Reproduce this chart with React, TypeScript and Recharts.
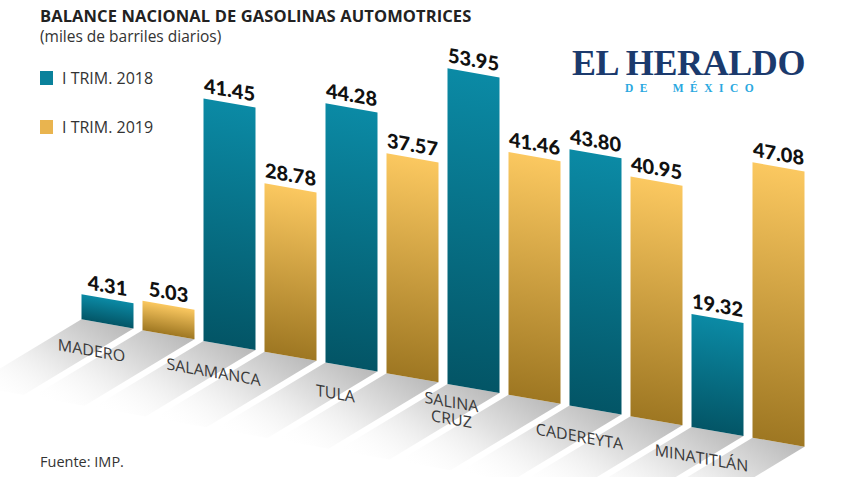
import React from 'react';
import { BarChart, Bar, XAxis, YAxis, LabelList } from 'recharts';

// refinerías y producción (miles de barriles diarios)
const refinerias = ['MADERO', 'SALAMANCA', 'TULA', 'SALINA CRUZ', 'CADEREYTA', 'MINATITLÁN'];
const trim2018 = [4.31, 41.45, 44.28, 53.95, 43.8, 19.32];
const trim2019 = [5.03, 28.78, 37.57, 41.46, 40.95, 47.08];

const data = refinerias.map((name, i) => ({ name, t2018: trim2018[i], t2019: trim2019[i] }));

const TEAL = '#0a819b';
const GOLD = '#e9b44f';

// barra con su "sombra" en el piso (se dibuja antes de inclinar todo con CSS)
const FloorBar = (props: any) => {
  const { x, y, width, height, fill } = props;
  if (height == null || width == null) return null;
  const base = y + height;
  const L = 110;
  const k = 0.78;
  const floor = `${x},${base} ${x + width},${base} ${x + width - L},${base + L * k} ${x - L},${base + L * k}`;
  return (
    <g>
      <polygon points={floor} fill="url(#piso)" />
      <rect x={x} y={y} width={width} height={height} fill={fill} />
    </g>
  );
};

const fmt = (v: number) => v.toFixed(2);

const CatTick = (props: any) => {
  const { x, y, payload } = props;
  const lines = String(payload.value).split(' ');
  const two = payload.value === 'SALINA CRUZ';
  return (
    <text
      x={x - 46}
      y={y + (two ? 15 : 27)}
      textAnchor="middle"
      fill="#3a3a3a"
      fontSize={16}
      fontFamily="'Open Sans', sans-serif"
    >
      {two
        ? lines.map((l, i) => (
            <tspan key={i} x={x - 52} dy={i === 0 ? 0 : 17}>{l}</tspan>
          ))
        : payload.value}
    </text>
  );
};

export default function App() {
  return (
    <div
      style={{
        position: 'relative',
        width: 848,
        height: 477,
        overflow: 'hidden',
        background: '#fff',
        fontFamily: "'Open Sans', sans-serif",
        color: '#222',
      }}
    >
      <style>{'body{margin:0}'}</style>

      <div style={{ position: 'absolute', left: 0, top: -80, transform: 'skewY(10deg)', transformOrigin: '0 0' }}>
        <BarChart
          width={848}
          height={480}
          data={data}
          margin={{ top: 34, right: 39.5, left: 76.5, bottom: 35 }}
          barSize={52}
          barGap={9}
        >
          <defs>
            <linearGradient id="gTeal" x1="0" y1="0" x2="0" y2="1">
              <stop offset="0%" stopColor="#0b8aa5" />
              <stop offset="100%" stopColor="#035566" />
            </linearGradient>
            <linearGradient id="gGold" x1="0" y1="0" x2="0" y2="1">
              <stop offset="0%" stopColor="#fbc860" />
              <stop offset="100%" stopColor="#9e7722" />
            </linearGradient>
            <linearGradient id="piso" x1="1" y1="0" x2="0" y2="1">
              <stop offset="0%" stopColor="#b8b8b8" />
              <stop offset="45%" stopColor="#e2e2e2" />
              <stop offset="100%" stopColor="#ffffff" stopOpacity={0} />
            </linearGradient>
          </defs>
          <XAxis dataKey="name" axisLine={false} tickLine={false} height={60} tick={<CatTick />} interval={0} />
          <YAxis hide domain={[0, 60]} />
          <Bar dataKey="t2018" name="I TRIM. 2018" fill="url(#gTeal)" shape={<FloorBar />} isAnimationActive={false}>
            <LabelList
              dataKey="t2018"
              position="top"
              offset={6}
              formatter={fmt}
              fill="#111"
              fontSize={20}
              fontWeight={900}
              fontFamily="Lato, sans-serif"
            />
          </Bar>
          <Bar dataKey="t2019" name="I TRIM. 2019" fill="url(#gGold)" shape={<FloorBar />} isAnimationActive={false}>
            <LabelList
              dataKey="t2019"
              position="top"
              offset={6}
              formatter={fmt}
              fill="#111"
              fontSize={20}
              fontWeight={900}
              fontFamily="Lato, sans-serif"
            />
          </Bar>
        </BarChart>
      </div>

      {/* título */}
      <div style={{ position: 'absolute', left: 40, top: 4, fontSize: 16.5, fontWeight: 700, letterSpacing: 0.1 }}>
        BALANCE NACIONAL DE GASOLINAS AUTOMOTRICES
      </div>
      <div style={{ position: 'absolute', left: 40, top: 25, fontSize: 15.5, color: '#333' }}>
        (miles de barriles diarios)
      </div>

      {/* leyenda */}
      <div style={{ position: 'absolute', left: 40, top: 67, display: 'flex', alignItems: 'center', fontSize: 16, color: '#333' }}>
        <span style={{ width: 13, height: 14, background: TEAL, display: 'inline-block', marginRight: 9 }} />
        I TRIM. 2018
      </div>
      <div style={{ position: 'absolute', left: 40, top: 116, display: 'flex', alignItems: 'center', fontSize: 16, color: '#333' }}>
        <span style={{ width: 13, height: 14, background: GOLD, display: 'inline-block', marginRight: 9 }} />
        I TRIM. 2019
      </div>

      {/* logo */}
      <div
        style={{
          position: 'absolute',
          left: 572,
          top: 49,
          fontFamily: "'Liberation Serif', serif",
          fontWeight: 700,
          fontSize: 36,
          lineHeight: '28px',
          color: '#1b3a6d',
          letterSpacing: -0.4,
          whiteSpace: 'nowrap',
        }}
      >
        EL HERALDO
      </div>
      <div
        style={{
          position: 'absolute',
          left: 625,
          top: 83,
          fontFamily: "'Liberation Serif', serif",
          fontWeight: 700,
          fontSize: 11.5,
          lineHeight: '10px',
          color: '#2aa8e0',
          letterSpacing: 6.5,
          whiteSpace: 'pre',
        }}
      >
        {'DE  MÉXICO'}
      </div>

      <div style={{ position: 'absolute', left: 40, top: 452, fontSize: 14.5, color: '#333' }}>Fuente: IMP.</div>
    </div>
  );
}
